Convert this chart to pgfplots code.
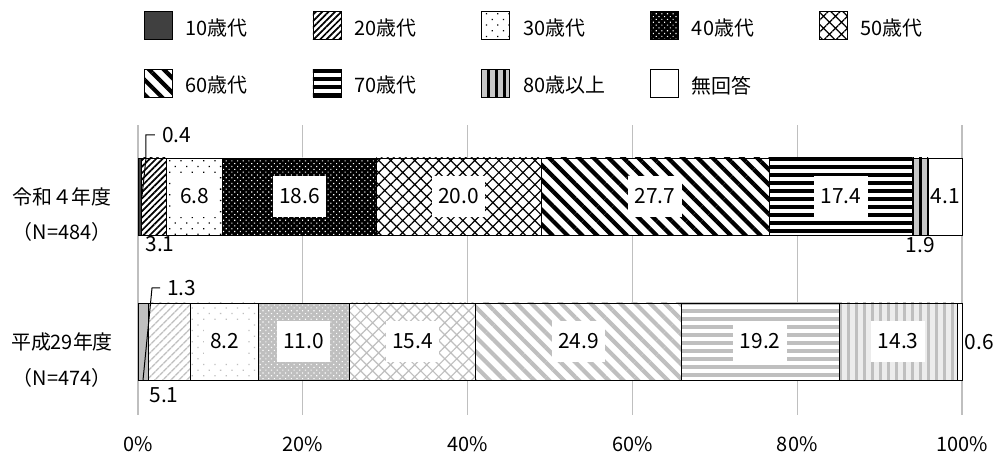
\documentclass[border=0pt]{standalone}
\usepackage{fontspec}
\setmainfont{Noto Sans CJK JP}
\usepackage{pgfplots}
\pgfplotsset{compat=1.18}
\usetikzlibrary{patterns,patterns.meta}
\definecolor{dk}{HTML}{404040}
\definecolor{lg}{HTML}{BFBFBF}
\definecolor{gridc}{HTML}{BFBFBF}
\tikzset{
  vlab/.style={fill=white, inner xsep=6.5bp, inner ysep=13bp, font=\fontsize{21}{24}\selectfont},
  vplain/.style={inner sep=0pt, font=\fontsize{21}{24}\selectfont},
}
\pgfplotsset{
  seg/.style={draw=black, line width=0.8bp},
  common/.style={
    at={(0,0)}, anchor=south west, scale only axis,
    width=824bp, height=290bp,
    xmin=0, xmax=100, ymin=0, ymax=290,
    xbar stacked, bar width=77bp, clip=false,
  }
}
\begin{document}
\begin{tikzpicture}[font=\fontsize{20}{24}\selectfont]
\path[use as bounding box] (-138bp,-40bp) rectangle (860bp,415bp);
\begin{axis}[common,
  axis line style={draw=none},
  major tick length=0pt,
  xtick={0,20,40,60,80,100},
  xticklabels={0\%,20\%,40\%,60\%,80\%,100\%},
  xticklabel style={font=\fontsize{20}{24}\selectfont, yshift=-18bp},
  ytick=\empty,
  xmajorgrids,
  grid style={gridc, line width=1.2bp},
  legend columns=5,
  legend image code/.code={\draw[#1] (0bp,-12bp) rectangle (28bp,16bp);},
  legend style={draw=none, fill=none, inner sep=0pt, outer sep=0pt,
    at={(axis description cs:0.007,1.393)}, anchor=north west,
    font=\fontsize{20}{24}\selectfont,
    row sep=29bp,
    nodes={inner sep=0pt},
    /tikz/every odd column/.append style={column sep=13bp},
    /tikz/every even column/.append style={text width=120bp, align=left, column sep=7bp},
  },
]
\addplot[seg, fill=dk] coordinates {(0.4,218.5)};
\addplot[seg, preaction={fill=white}, pattern={Lines[angle=45,distance=4.5bp,line width=1.7bp]}, pattern color=black] coordinates {(3.1,218.5)};
\addplot[seg, preaction={fill=white}, pattern={Dots[angle=45,distance=8bp,radius=0.9bp]}, pattern color=black] coordinates {(6.8,218.5)};
\addplot[seg, preaction={fill=black}, pattern={Dots[angle=45,distance=4bp,radius=0.8bp]}, pattern color=white] coordinates {(18.6,218.5)};
\addplot[seg, preaction={fill=white}, pattern={Hatch[angle=45,distance=8.5bp,line width=1.2bp]}, pattern color=black] coordinates {(20.0,218.5)};
\addplot[seg, preaction={fill=white}, pattern={Lines[angle=-45,distance=10.5bp,line width=4.2bp]}, pattern color=black] coordinates {(27.7,218.5)};
\addplot[seg, preaction={fill=white}, pattern={Lines[angle=0,distance=8bp,line width=3.5bp]}, pattern color=black] coordinates {(17.4,218.5)};
\addplot[seg, preaction={fill=gray!45}, pattern={Lines[angle=90,distance=8bp,line width=3bp]}, pattern color=black] coordinates {(1.9,218.5)};
\addplot[seg, fill=white] coordinates {(4.1,218.5)};
\legend{10歳代,20歳代,30歳代,40歳代,50歳代,60歳代,70歳代,80歳以上,無回答}
% category labels
\node[xshift=-76bp] at (axis cs:0,218) {令和４年度};
\node[xshift=-76bp] at (axis cs:0,183) {（N=484）};
\node[xshift=-76bp] at (axis cs:0,73) {平成29年度};
\node[xshift=-76bp] at (axis cs:0,37) {（N=474）};
\end{axis}
\begin{axis}[common, hide axis]
\addplot[seg, fill=lg] coordinates {(1.3,73.5)};
\addplot[seg, preaction={fill=white}, pattern={Lines[angle=45,distance=6bp,line width=1.8bp]}, pattern color=lg] coordinates {(5.1,73.5)};
\addplot[seg, preaction={fill=white}, pattern={Dots[angle=45,distance=8bp,radius=0.9bp]}, pattern color=lg] coordinates {(8.2,73.5)};
\addplot[seg, preaction={fill=lg}, pattern={Dots[angle=45,distance=4bp,radius=0.8bp]}, pattern color=white] coordinates {(11.0,73.5)};
\addplot[seg, preaction={fill=white}, pattern={Hatch[angle=45,distance=8.5bp,line width=1.2bp]}, pattern color=lg] coordinates {(15.4,73.5)};
\addplot[seg, preaction={fill=white}, pattern={Lines[angle=-45,distance=10.5bp,line width=4.2bp]}, pattern color=lg] coordinates {(24.9,73.5)};
\addplot[seg, preaction={fill=white}, pattern={Lines[angle=0,distance=8bp,line width=3.5bp]}, pattern color=lg] coordinates {(19.2,73.5)};
\addplot[seg, preaction={fill=gray!15}, pattern={Lines[angle=90,distance=8bp,line width=3bp]}, pattern color=lg] coordinates {(14.3,73.5)};
\addplot[seg, fill=white] coordinates {(0.6,73.5)};
\end{axis}
\begin{axis}[at={(0,0)}, anchor=south west, scale only axis,
    width=824bp, height=290bp,
    xmin=0, xmax=100, ymin=0, ymax=290, clip=false, hide axis]
% labels top bar
\node[vlab] at (axis cs:6.9,218.5) {6.8};
\node[vlab] at (axis cs:19.6,218.5) {18.6};
\node[vlab] at (axis cs:38.9,218.5) {20.0};
\node[vlab] at (axis cs:62.75,218.5) {27.7};
\node[vlab] at (axis cs:85.3,218.5) {17.4};
\node[vplain] at (axis cs:97.95,218.5) {4.1};
\node[vplain] at (axis cs:2.67,171) {3.1};
\node[vplain] at (axis cs:94.95,170) {1.9};
\draw[line width=1bp] (axis cs:0.49,219) -- (axis cs:0.97,257) -- (axis cs:0.97,280) -- (axis cs:2.06,280);
\node[vplain, anchor=west] at (axis cs:2.9,280) {0.4};
% labels bottom bar
\node[vlab] at (axis cs:10.5,73.5) {8.2};
\node[vlab] at (axis cs:20.1,73.5) {11.0};
\node[vlab] at (axis cs:33.3,73.5) {15.4};
\node[vlab] at (axis cs:53.45,73.5) {24.9};
\node[vlab] at (axis cs:75.5,73.5) {19.2};
\node[vlab] at (axis cs:92.25,73.5) {14.3};
\node[vplain, anchor=west] at (axis cs:100.3,73) {0.6};
\node[vplain] at (axis cs:3.16,20) {5.1};
\draw[line width=1bp] (axis cs:0.61,35) -- (axis cs:1.70,127) -- (axis cs:2.67,127);
\node[vplain, anchor=west] at (axis cs:3.5,127) {1.3};
\end{axis}
\end{tikzpicture}
\end{document}
